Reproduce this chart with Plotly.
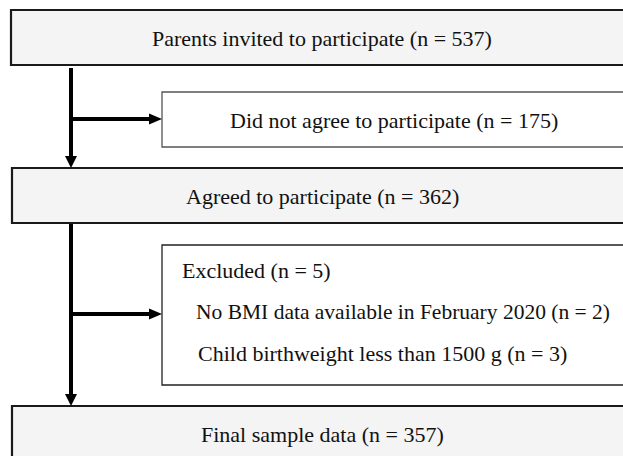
import plotly.graph_objects as go

# ---- data ----
main_labels = ["Parents invited to participate", "Agreed to participate", "Final sample data"]
main_n = [537, 362, 357]
side_labels = ["Did not agree to participate", "Excluded"]
side_n = [175, 5]
reason_labels = ["No BMI data available in February 2020", "Child birthweight less than 1500 g"]
reason_n = [2, 3]

W, H = 623, 456
FONT = "Liberation Serif, Times New Roman, serif"
FILL = "#f3f4f3"

fig = go.Figure()
fig.add_trace(go.Scatter(x=[0, W], y=[0, H], mode="markers", marker=dict(opacity=0), hoverinfo="skip", showlegend=False))

shapes = []
annos = []

def box(x0, y0, x1, y1, fill, lw, lc):
    shapes.append(dict(type="rect", xref="x", yref="y", x0=x0, y0=y0, x1=x1, y1=y1,
                       fillcolor=fill, line=dict(color=lc, width=lw), layer="below"))

def text(x, y, s, anchor="center", size=22):
    annos.append(dict(x=x, y=y, xref="x", yref="y", text=s, showarrow=False, xanchor=anchor,
                      yanchor="middle", font=dict(family=FONT, size=size, color="#111")))

def vline(x, y0, y1):
    shapes.append(dict(type="line", xref="x", yref="y", x0=x, x1=x, y0=y0, y1=y1 - 10,
                       line=dict(color="black", width=4)))
    shapes.append(dict(type="path", xref="x", yref="y",
                       path=f"M {x-6} {y1-12} L {x+6} {y1-12} L {x} {y1} Z",
                       fillcolor="black", line=dict(color="black", width=0)))

def hline(y, x0, x1):
    shapes.append(dict(type="line", xref="x", yref="y", x0=x0, x1=x1 - 10, y0=y, y1=y,
                       line=dict(color="black", width=4)))
    shapes.append(dict(type="path", xref="x", yref="y",
                       path=f"M {x1-13} {y-5.5} L {x1-13} {y+5.5} L {x1} {y} Z",
                       fillcolor="black", line=dict(color="black", width=0)))

def lab(s, n):
    return f"{s} (n = {n})"

# main boxes
main_boxes = [(11, 10, 636, 65), (12, 168, 636, 223), (12, 406, 636, 475)]
main_text_y = [38, 196, 434]
for (x0, y0, x1, y1), s, n, ty in zip(main_boxes, main_labels, main_n, main_text_y):
    box(x0, y0, x1, y1, FILL, 2.2, "#1a1a1a")
    text(322, ty, lab(s, n))

# side boxes
box(162, 92, 640, 147, "white", 1.3, "#555")
text(394, 120, lab(side_labels[0], side_n[0]))
box(162, 245, 640, 385, "white", 1.3, "#222")
text(180, 270, lab(side_labels[1], side_n[1]), anchor="left")
text(194, 312, lab(reason_labels[0], reason_n[0]), anchor="left", size=21.5)
text(196, 353, lab(reason_labels[1], reason_n[1]), anchor="left")

# connectors
vline(71, 68, 168)
hline(119, 71, 162)
vline(71, 224, 406)
hline(314, 71, 162)

fig.update_layout(
    width=W, height=H, margin=dict(l=0, r=0, t=0, b=0),
    paper_bgcolor="white", plot_bgcolor="white",
    xaxis=dict(range=[0, W], visible=False, fixedrange=True),
    yaxis=dict(range=[H, 0], visible=False, fixedrange=True),
    shapes=shapes, annotations=annos, showlegend=False,
)
fig.write_html("out.html", config={"displayModeBar": False},
               post_script="document.body.style.margin='0';document.body.style.overflow='hidden';")
